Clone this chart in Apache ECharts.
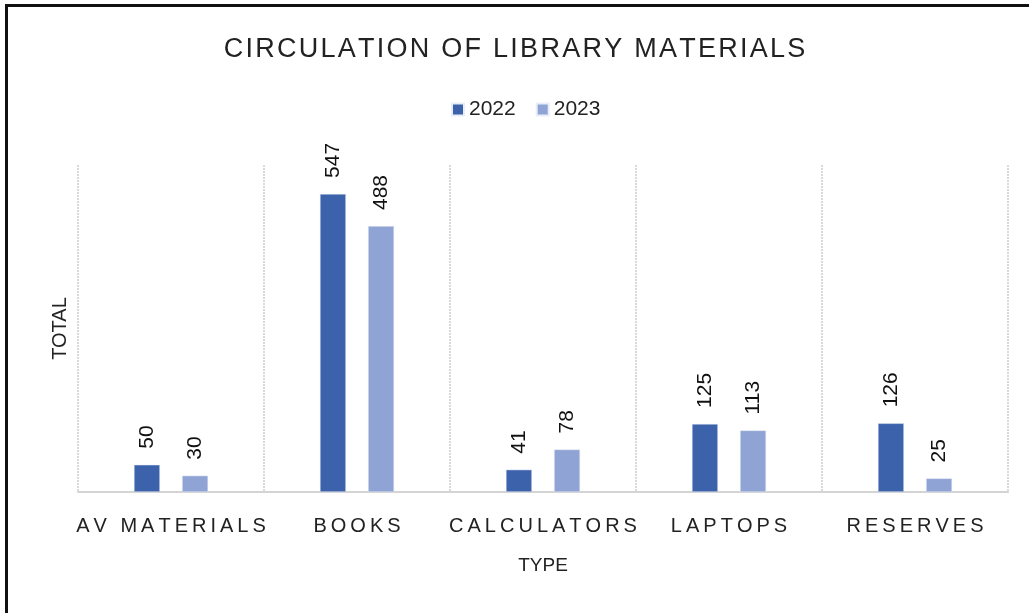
<!DOCTYPE html>
<html>
<head>
<meta charset="utf-8">
<script src="https://cdn.jsdelivr.net/npm/echarts@6/dist/echarts.min.js"></script>
<style>
  html, body { margin: 0; padding: 0; background: #fff; }
  #frame {
    position: absolute; left: 5px; top: 4px; width: 1030px; height: 620px;
    border-top: 3px solid #111; border-left: 3px solid #111;
  }
  #chart { position: absolute; left: 0; top: 0; width: 1029px; height: 613px; }
</style>
</head>
<body>
<div id="frame"></div>
<div id="chart"></div>
<script>
const categories = ['AV MATERIALS', 'BOOKS', 'CALCULATORS', 'LAPTOPS', 'RESERVES']
const values2022 = [50, 547, 41, 125, 126]
const values2023 = [30, 488, 78, 113, 25]
const seriesNames = ['2022', '2023']

const FONT = 'Liberation Sans'

// spread letters out, the way the original axis text is tracked
function spaced(s, sep) {
  return s.split('').join(sep)
}

const chart = echarts.init(document.getElementById('chart'))

const labelStyle = {
  show: true,
  position: 'top',
  rotate: 90,
  align: 'left',
  verticalAlign: 'middle',
  distance: 16,
  fontSize: 21,
  color: '#111',
  fontFamily: FONT
}

chart.setOption({
  backgroundColor: 'transparent',
  animation: false,
  title: {
    text: spaced('CIRCULATION OF LIBRARY MATERIALS', '\u200A'),
    left: 'center',
    top: 31,
    textStyle: {
      fontFamily: FONT,
      fontWeight: 'normal',
      fontSize: 27,
      color: '#222'
    }
  },
  legend: {
    top: 94,
    left: 446,
    icon: 'rect',
    itemWidth: 12,
    itemHeight: 12,
    itemGap: 20,
    data: seriesNames,
    textStyle: {
      fontFamily: FONT,
      fontSize: 21,
      color: '#222'
    }
  },
  grid: {
    left: 78,
    right: 21,
    top: 165,
    bottom: 121,
    containLabel: false
  },
  xAxis: {
    type: 'category',
    data: categories,
    name: 'TYPE',
    nameLocation: 'middle',
    nameGap: 64,
    nameTextStyle: {
      fontFamily: FONT,
      fontSize: 19,
      color: '#222'
    },
    axisLine: { lineStyle: { color: '#d4d4d4', width: 2 } },
    axisTick: { show: false },
    splitLine: {
      show: true,
      interval: 0,
      lineStyle: { color: '#d9d9d9', width: 2, type: [2, 1] }
    },
    axisLabel: {
      interval: 0,
      margin: 24,
      fontFamily: FONT,
      fontSize: 20,
      color: '#222',
      formatter: v => spaced(v, '\u2009')
    }
  },
  yAxis: {
    type: 'value',
    min: 0,
    max: 600,
    name: 'TOTAL',
    nameLocation: 'middle',
    nameGap: 8,
    nameTextStyle: {
      fontFamily: FONT,
      fontSize: 20,
      color: '#222'
    },
    axisLine: { show: false },
    axisTick: { show: false },
    axisLabel: { show: false },
    splitLine: { show: false }
  },
  series: [{
    name: seriesNames[0],
    type: 'bar',
    data: values2022,
    barWidth: 26,
    barGap: '85%',
    itemStyle: { color: '#3b62ab', borderColor: '#e8edf7', borderWidth: 0.5 },
    label: labelStyle
  }, {
    name: seriesNames[1],
    type: 'bar',
    data: values2023,
    barWidth: 26,
    itemStyle: { color: '#8fa3d4', borderColor: '#e8edf7', borderWidth: 0.5 },
    label: labelStyle
  }]
})
</script>
</body>
</html>
